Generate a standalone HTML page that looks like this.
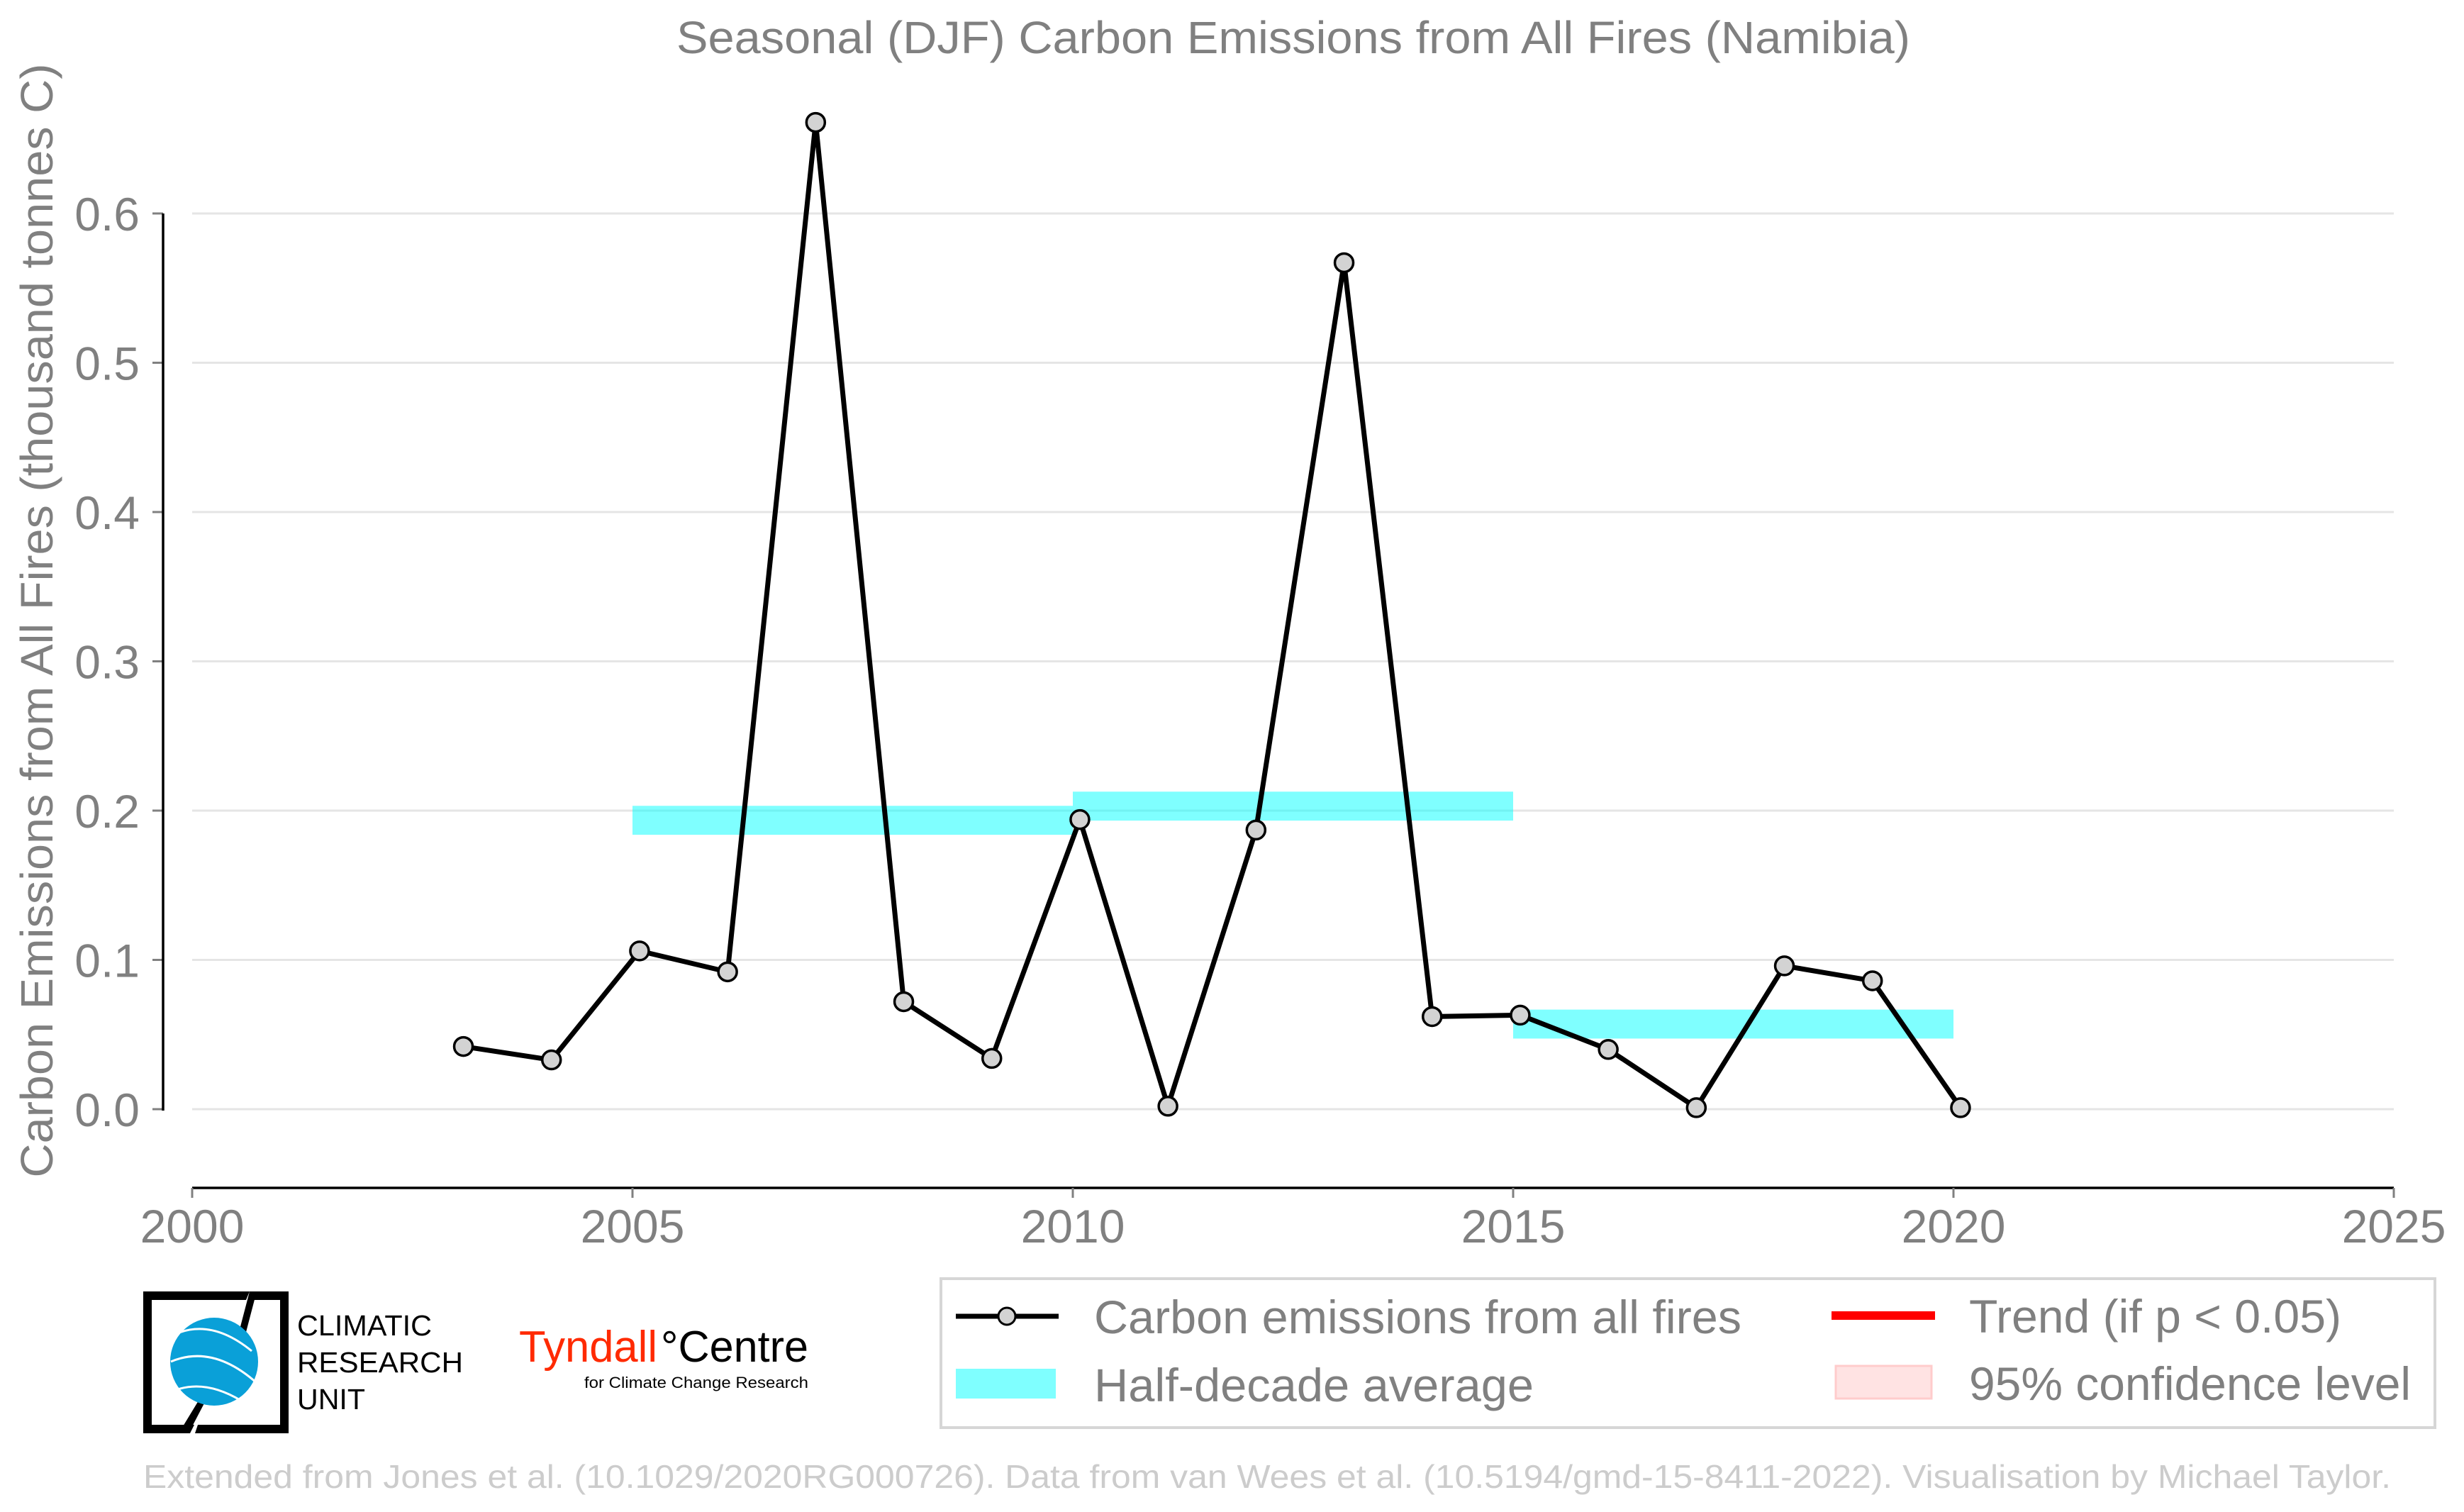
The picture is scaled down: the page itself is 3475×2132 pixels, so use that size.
<!DOCTYPE html>
<html><head><meta charset="utf-8"><style>
html,body{margin:0;padding:0;background:#fff;}
svg{display:block;font-family:"Liberation Sans",Arial,sans-serif;}
</style></head><body>
<svg id="chart" width="3475" height="2132" viewBox="0 0 3475 2132" xmlns="http://www.w3.org/2000/svg">
<rect width="3475" height="2132" fill="#fff"/>
<text x="1824" y="75" font-size="64" fill="#808080" text-anchor="middle" textLength="1740" lengthAdjust="spacingAndGlyphs">Seasonal (DJF) Carbon Emissions from All Fires (Namibia)</text>
<text transform="translate(74,875) rotate(-90)" font-size="64" fill="#808080" text-anchor="middle" textLength="1571" lengthAdjust="spacingAndGlyphs">Carbon Emissions from All Fires (thousand tonnes C)</text>
<g id="grid"></g>
<g id="bands"></g>
<g id="axes"></g>
<g id="series"></g>

<g>
<rect x="1327" y="1803" width="2107" height="210" fill="#fff" stroke="#d6d6d6" stroke-width="4"/>
<line x1="1348" y1="1856" x2="1493" y2="1856" stroke="#000" stroke-width="7"/>
<circle cx="1420" cy="1856" r="12" fill="#d3d3d3" stroke="#000" stroke-width="3"/>
<text x="1543" y="1880" font-size="66" fill="#808080" textLength="913" lengthAdjust="spacingAndGlyphs">Carbon emissions from all fires</text>
<rect x="1348" y="1930" width="141" height="42" fill="#7fffff"/>
<text x="1543" y="1976" font-size="66" fill="#808080" textLength="620" lengthAdjust="spacingAndGlyphs">Half-decade average</text>
<line x1="2583" y1="1855" x2="2729" y2="1855" stroke="#ff0000" stroke-width="12"/>
<text x="2777" y="1879" font-size="66" fill="#808080" textLength="525" lengthAdjust="spacingAndGlyphs">Trend (if p &lt; 0.05)</text>
<rect x="2589" y="1926" width="135" height="46" fill="#ffe3e3" stroke="#ffcccc" stroke-width="3"/>
<text x="2777" y="1974" font-size="66" fill="#808080" textLength="623" lengthAdjust="spacingAndGlyphs">95% confidence level</text>
</g>

<g>
<path d="M352 1821 H202 V2021 H268 L274 2009 H214 V1833 H347 Z" fill="#000"/>
<path d="M360 1821 H407 V2021 H275 L279 2009 H395 V1833 H356 Z" fill="#000"/>
<polygon points="352,1821 362,1821 340,1905 330,1905" fill="#000"/>
<polygon points="252,2021 266,2021 290,1975 280,1975" fill="#000"/>
<circle cx="302" cy="1920" r="62" fill="#0aa0d8"/>
<path d="M250 1880 Q300 1860 355 1905 M241 1920 Q300 1895 362 1950 M248 1960 Q290 1945 340 1975" stroke="#fff" stroke-width="3" fill="none"/>
<text x="419" y="1883" font-size="41" fill="#000" textLength="190" lengthAdjust="spacingAndGlyphs">CLIMATIC</text>
<text x="419" y="1935" font-size="41" fill="#000" textLength="234" lengthAdjust="spacingAndGlyphs">RESEARCH</text>
<text x="419" y="1987" font-size="41" fill="#000" textLength="96" lengthAdjust="spacingAndGlyphs">UNIT</text>
</g>
<g>
<text x="732" y="1920" font-size="62" fill="#ff2a00" textLength="195" lengthAdjust="spacingAndGlyphs">Tyndall</text>
<text x="932" y="1920" font-size="62" fill="#000" textLength="208" lengthAdjust="spacingAndGlyphs">°Centre</text>
<text x="824" y="1957" font-size="22" fill="#000" textLength="316" lengthAdjust="spacingAndGlyphs">for Climate Change Research</text>
</g>
<text x="202" y="2098" font-size="46" fill="#cccccc" textLength="3170" lengthAdjust="spacingAndGlyphs">Extended from Jones et al. (10.1029/2020RG000726). Data from van Wees et al. (10.5194/gmd-15-8411-2022). Visualisation by Michael Taylor.</text>
</svg>
<script>
const years = [2003,2004,2005,2006,2007,2008,2009,2010,2011,2012,2013,2014,2015,2016,2017,2018,2019,2020];
const emissions = [0.042,0.033,0.106,0.092,0.661,0.072,0.034,0.194,0.002,0.187,0.567,0.062,0.063,0.040,0.001,0.096,0.086,0.001];
const bandStarts = [2005,2010,2015];
const bandEnds = [2010,2015,2020];
const bandValues = [0.1935,0.203,0.057];
const yTicks = [0,0.1,0.2,0.3,0.4,0.5,0.6];
const yTickLabels = ["0.0","0.1","0.2","0.3","0.4","0.5","0.6"];
const xTicks = [2000,2005,2010,2015,2020,2025];
const xTickLabels = ["2000","2005","2010","2015","2020","2025"];

const NS="http://www.w3.org/2000/svg";
const X0=271, X1=3376, XMIN=2000, XMAX=2025;
const Y0=1564, Y1=301, VMIN=0, VMAX=0.6;
function xs(v){return X0+(v-XMIN)/(XMAX-XMIN)*(X1-X0);}
function ys(v){return Y0-(v-VMIN)/(VMAX-VMIN)*(Y0-Y1);}
function mk(tag,attrs,parent){const e=document.createElementNS(NS,tag);for(const k in attrs)e.setAttribute(k,attrs[k]);parent.appendChild(e);return e;}
const grid=document.getElementById('grid'),axes=document.getElementById('axes'),bands=document.getElementById('bands'),series=document.getElementById('series');

yTicks.forEach((t,i)=>{
  const g=mk('line',{x1:xs(XMIN),x2:xs(XMAX),y1:ys(t),y2:ys(t),stroke:'#e5e5e5','stroke-width':3},grid);
  
  
  const tk=mk('line',{x1:215,x2:230,y1:ys(t),y2:ys(t),stroke:'#808080','stroke-width':3},axes);
  
  
  const tx=mk('text',{x:197,y:ys(t)+24,'font-size':66,fill:'#808080','text-anchor':'end'},axes);
  tx.textContent=yTickLabels[i];
  
  
});
const ysp=mk('line',{x1:230,x2:230,y1:ys(VMAX),y2:ys(VMIN)+2,stroke:'#000','stroke-width':3.5},axes);


const xax=mk('line',{x1:xs(XMIN),x2:xs(XMAX),y1:1675,y2:1675,stroke:'#000','stroke-width':3.5},axes);


xTicks.forEach((t,i)=>{
  const tk=mk('line',{x1:xs(t),x2:xs(t),y1:1675,y2:1689,stroke:'#808080','stroke-width':3},axes);
  
  
  const tx=mk('text',{x:xs(t),y:1752,'font-size':66,fill:'#808080','text-anchor':'middle'},axes);
  tx.textContent=xTickLabels[i];
  
  
});
bandValues.forEach((v,i)=>{
  const r=mk('rect',{x:xs(bandStarts[i]),width:xs(bandEnds[i])-xs(bandStarts[i]),y:ys(v+0.0097),height:ys(v-0.0097)-ys(v+0.0097),fill:'#00ffff','fill-opacity':0.5},bands);
  
  
});
const OFF=0.08;
const pts=years.map((y,i)=>xs(y+OFF)+','+ys(emissions[i])).join(' ');
const pl=mk('polyline',{points:pts,fill:'none',stroke:'#000','stroke-width':7,'stroke-linejoin':'round'},series);


years.forEach((y,i)=>{
  const c=mk('circle',{cx:xs(y+OFF),cy:ys(emissions[i]),r:13,fill:'#d3d3d3',stroke:'#000','stroke-width':3.5},series);
  
  
});
</script>
</body></html>
